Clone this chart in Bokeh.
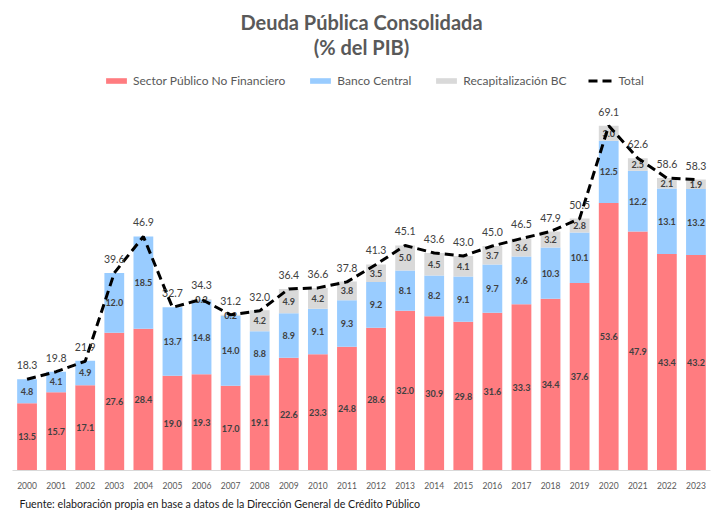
from bokeh.plotting import figure
from bokeh.models import FactorRange, Range1d, ColumnDataSource, Label, Legend, LegendItem, Title
from bokeh.core.properties import value
from bokeh.embed import file_html
from bokeh.resources import INLINE

years = [str(y) for y in range(2000, 2024)]
spnf = [13.5, 15.7, 17.1, 27.6, 28.4, 19.0, 19.3, 17.0, 19.1, 22.6, 23.3, 24.8,
        28.6, 32.0, 30.9, 29.8, 31.6, 33.3, 34.4, 37.6, 53.6, 47.9, 43.4, 43.2]
bc = [4.8, 4.1, 4.9, 12.0, 18.5, 13.7, 14.8, 14.0, 8.8, 8.9, 9.1, 9.3,
      9.2, 8.1, 8.2, 9.1, 9.7, 9.6, 10.3, 10.1, 12.5, 12.2, 13.1, 13.2]
recap = [0, 0, 0, 0, 0, 0, 0.2, 0.2, 4.2, 4.9, 4.2, 3.8,
         3.5, 5.0, 4.5, 4.1, 3.7, 3.6, 3.2, 2.8, 3.0, 2.5, 2.1, 1.9]
total = [18.3, 19.8, 21.9, 39.6, 46.9, 32.7, 34.3, 31.2, 32.0, 36.4, 36.6, 37.8,
         41.3, 45.1, 43.6, 43.0, 45.0, 46.5, 47.9, 50.5, 69.1, 62.6, 58.6, 58.3]

FONT = "Lato"
C_SPNF = "#FF7C80"
C_BC = "#99CCFF"
C_REC = "#D9D9D9"

src = ColumnDataSource(dict(
    year=years, spnf=spnf, bc=bc, recap=recap, total=total,
    spnf_mid=[s / 2 for s in spnf],
    bc_mid=[s + b / 2 for s, b in zip(spnf, bc)],
    rec_mid=[s + b + r / 2 for s, b, r in zip(spnf, bc, recap)],
    spnf_lbl=["%.1f" % v for v in spnf],
    bc_lbl=["%.1f" % v for v in bc],
    rec_lbl=["%.1f" % v if v > 0 else "" for v in recap],
    total_lbl=["%.1f" % v for v in total],
))

p = figure(width=712, height=513, x_range=FactorRange(factors=years),
           y_range=Range1d(0, 94.2), output_backend="svg", toolbar_location=None,
           min_border_left=12, min_border_right=2, min_border_top=0, min_border_bottom=41)
p.outline_line_color = None
p.xgrid.grid_line_color = None
p.ygrid.grid_line_color = None
p.yaxis.visible = False
p.xaxis.axis_line_color = "#D9D9D9"
p.xaxis.major_tick_line_color = None
p.xaxis.minor_tick_line_color = None
p.xaxis.major_label_standoff = 5
p.xaxis.major_label_text_font = FONT
p.xaxis.major_label_text_font_size = "8.5px"
p.xaxis.major_label_text_color = "#595959"

rs = p.vbar_stack(["spnf", "bc", "recap"], x="year", width=0.68, source=src,
                  fill_color=[C_SPNF, C_BC, C_REC], line_color=None)

lbl_kw = dict(text_align="center", text_baseline="middle", text_font=value(FONT),
              text_font_size="9px", text_font_style="bold", text_color="#404040")
p.text(x="year", y="spnf_mid", text="spnf_lbl", source=src, **lbl_kw)
p.text(x="year", y="bc_mid", text="bc_lbl", source=src, **lbl_kw)
p.text(x="year", y="rec_mid", text="rec_lbl", source=src, **lbl_kw)

ln = p.line(x="year", y="total", source=src, line_color="black", line_width=3,
            line_dash="9 5")
p.text(x="year", y="total", text="total_lbl", source=src, y_offset=-14,
       text_align="center", text_baseline="middle", text_font=value(FONT),
       text_font_size="10.5px", text_color="#404040")

p.add_layout(Label(x=12, y=89.8, text="Deuda Pública Consolidada", text_align="center",
                   text_baseline="middle", text_font=FONT, text_font_size="20px",
                   text_font_style="bold", text_color="#595959"))
p.add_layout(Label(x=12, y=84.8, text="(% del PIB)", text_align="center",
                   text_baseline="middle", text_font=FONT, text_font_size="20px",
                   text_font_style="bold", text_color="#595959"))

legend = Legend(items=[
    LegendItem(label="Sector Público No Financiero", renderers=[rs[0]]),
    LegendItem(label="Banco Central", renderers=[rs[1]]),
    LegendItem(label="Recapitalización BC", renderers=[rs[2]]),
    LegendItem(label="Total", renderers=[ln]),
], orientation="horizontal", location=(91, 382), glyph_width=26, glyph_height=7,
    label_height=14, label_standoff=4, spacing=22, padding=0, margin=0,
    border_line_color=None, background_fill_alpha=0,
    label_text_font=FONT, label_text_font_size="12px", label_text_color="#595959")
p.add_layout(legend)

p.add_layout(Title(text="Fuente: elaboración propia en base a datos de la Dirección General de Crédito Público",
                   align="left", offset=7, text_font=FONT, text_font_size="10.7px",
                   text_font_style="normal", text_color="#1a1a1a", standoff=7), "below")

open("out.html", "w").write(file_html(p, INLINE))
